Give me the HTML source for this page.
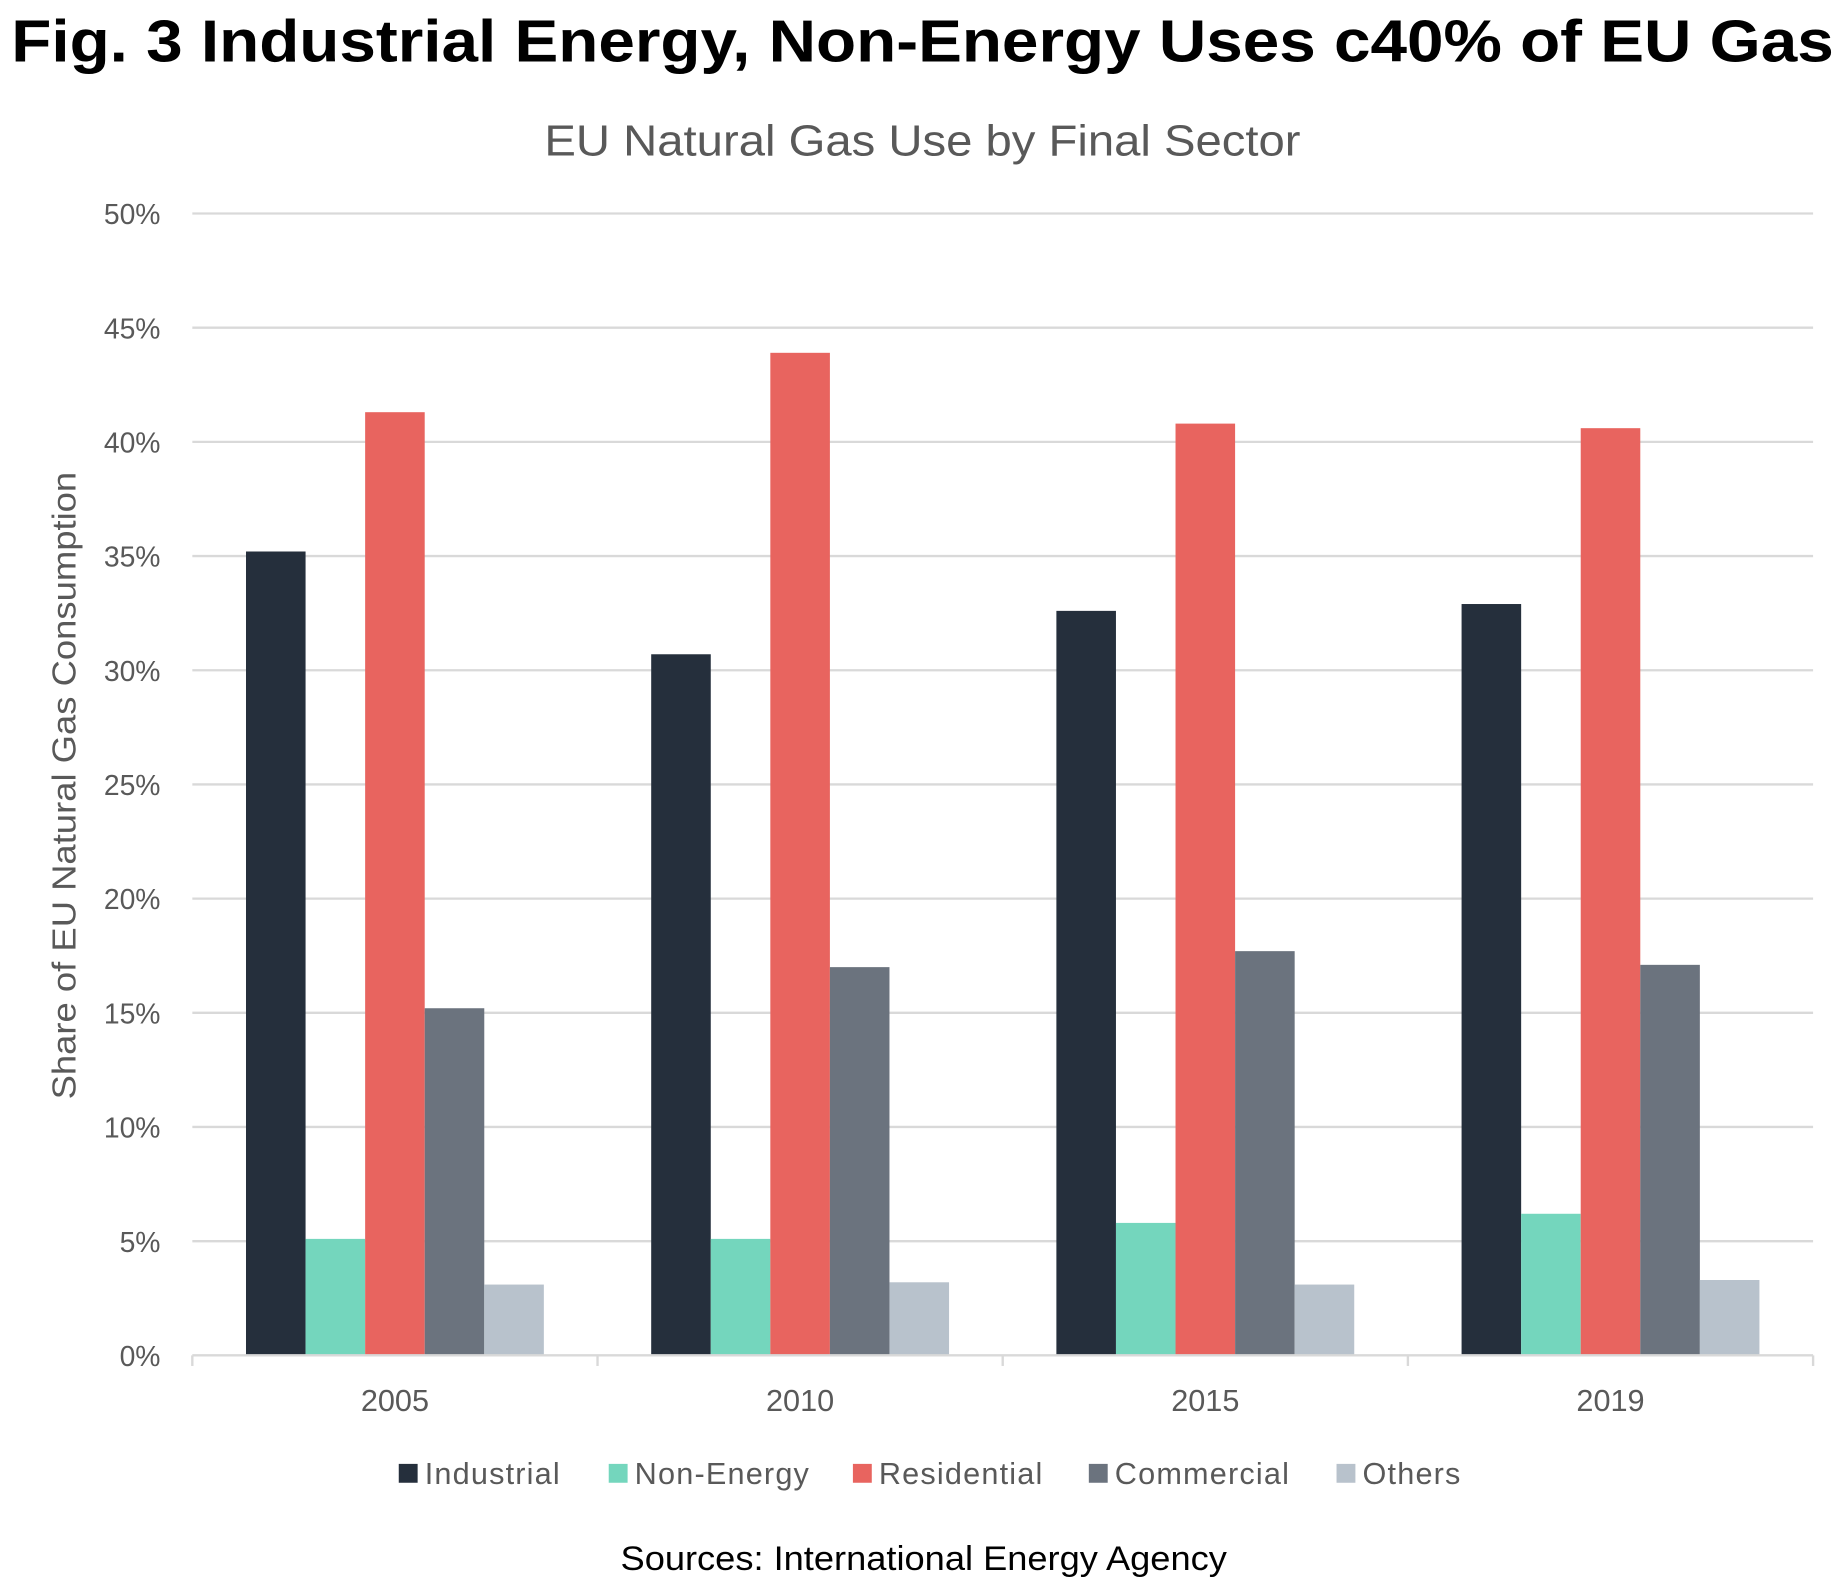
<!DOCTYPE html>
<html><head><meta charset="utf-8"><style>
html,body{margin:0;padding:0;background:#fff;}
svg{display:block;}
</style></head><body>
<svg id="chart" xmlns="http://www.w3.org/2000/svg" width="1845" height="1596" viewBox="0 0 1564 1353" font-family="Liberation Sans, sans-serif">
<text x="782" y="52" text-anchor="middle" font-size="50" font-weight="bold" fill="#000" textLength="1545" lengthAdjust="spacingAndGlyphs">Fig. 3 Industrial Energy, Non-Energy Uses c40% of EU Gas</text>
<text x="782" y="132" text-anchor="middle" font-size="37" fill="#595959" textLength="641" lengthAdjust="spacingAndGlyphs">EU Natural Gas Use by Final Sector</text>
<text transform="translate(64,666) rotate(-90)" text-anchor="middle" font-size="28" fill="#595959" textLength="532" lengthAdjust="spacingAndGlyphs">Share of EU Natural Gas Consumption</text>
<g id="grid"></g><g id="bars"></g><g id="xaxis"></g><g id="legend"></g>
<text x="783" y="1331" text-anchor="middle" font-size="29" fill="#000" textLength="514" lengthAdjust="spacingAndGlyphs">Sources: International Energy Agency</text>
</svg>
<script>
const categories = ["2005","2010","2015","2019"];
const seriesNames = ["Industrial","Non-Energy","Residential","Commercial","Others"];
const industrial = [35.2,30.7,32.6,32.9];
const nonEnergy = [5.1,5.1,5.8,6.2];
const residential = [41.3,43.9,40.8,40.6];
const commercial = [15.2,17.0,17.7,17.1];
const others = [3.1,3.2,3.1,3.3];
const yTicks = [0,5,10,15,20,25,30,35,40,45,50];
const colors = ["#252f3c","#74d6bd","#e8645f","#6b737e","#b8c2cc"];
const series = [industrial,nonEnergy,residential,commercial,others];
const NS="http://www.w3.org/2000/svg";
const L=163,R=1537,T=181,B=1149;
const y=v=>B-(v/50)*(B-T);
const groupW=(R-L)/categories.length;
const barW=50.5;
function mk(tag,attrs,parent){const e=document.createElementNS(NS,tag);for(const k in attrs)e.setAttribute(k,attrs[k]);parent.appendChild(e);return e;}
const grid=document.getElementById('grid');
yTicks.forEach(t=>{
  if(t>0){const g=mk('line',{x1:L,x2:R,y1:y(t),y2:y(t),stroke:'#d9d9d9','stroke-width':2},grid);
  
  }
  const tx=mk('text',{x:136,y:y(t)+9,'text-anchor':'end','font-size':24,fill:'#595959'},grid);
  tx.textContent=t+'%';
  
  
});
const bars=document.getElementById('bars');
categories.forEach((c,i)=>{
  const cx=L+groupW*(i+0.5);
  series.forEach((s,j)=>{
    const x=cx-2.5*barW+j*barW;
    const r=mk('rect',{x:x,y:y(s[i]),width:barW,height:B-y(s[i]),fill:colors[j]},bars);
    
    
  });
});
const xa=document.getElementById('xaxis');
const ax=mk('line',{x1:L,x2:R,y1:B,y2:B,stroke:'#d9d9d9','stroke-width':2},xa);


for(let i=0;i<=categories.length;i++){
  const tk=mk('line',{x1:L+groupW*i,x2:L+groupW*i,y1:B,y2:B+9,stroke:'#d9d9d9','stroke-width':2},xa);
  
  
}
categories.forEach((c,i)=>{
  const t=mk('text',{x:L+groupW*(i+0.5),y:1196,'text-anchor':'middle','font-size':26,fill:'#595959'},xa);
  t.textContent=c;
  
  
});
const lg=document.getElementById('legend');
const lx=[338,516,723,923,1133];
seriesNames.forEach((n,j)=>{
  const g=mk('g',{},lg);
  
  
  mk('rect',{x:lx[j],y:1241,width:16,height:16,fill:colors[j]},g);
  const t=mk('text',{x:lx[j]+22,y:1258,'font-size':26,fill:'#595959','letter-spacing':1},g);
  t.textContent=n;
});
</script>
</body></html>
